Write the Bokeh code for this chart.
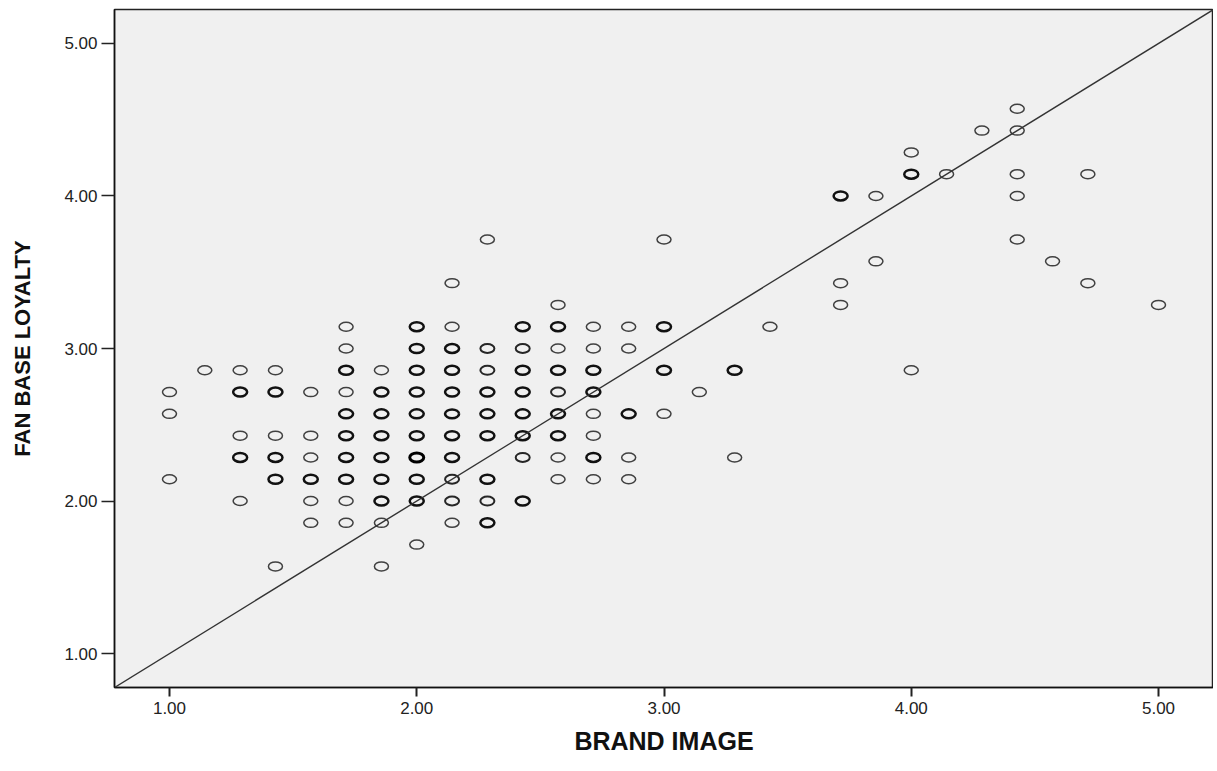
from bokeh.plotting import figure
from bokeh.models import Range1d, Slope, FixedTicker, ColumnDataSource
from bokeh.embed import file_html
from bokeh.resources import INLINE

# Scores are means of 7 items, stored as item sums (value = sum / 7)
brand_image_sum = [
    7, 7, 7,
    8,
    9, 9, 9, 9, 9,
    10, 10, 10, 10, 10, 10,
    11, 11, 11, 11, 11, 11,
    12, 12, 12, 12, 12, 12, 12, 12, 12, 12,
    13, 13, 13, 13, 13, 13, 13, 13, 13,
    14, 14, 14, 14, 14, 14, 14, 14, 14, 14,
    15, 15, 15, 15, 15, 15, 15, 15, 15, 15, 15,
    16, 16, 16, 16, 16, 16, 16, 16, 16,
    17, 17, 17, 17, 17, 17, 17, 17,
    18, 18, 18, 18, 18, 18, 18, 18, 18,
    19, 19, 19, 19, 19, 19, 19, 19,
    20, 20, 20, 20, 20,
    21, 21, 21, 21,
    22,
    23, 23,
    24,
    26, 26, 26,
    27, 27,
    28, 28, 28,
    29,
    30,
    31, 31, 31, 31, 31,
    32,
    33, 33,
    35,
]
fan_loyalty_sum = [
    19, 18, 15,
    20,
    20, 19, 17, 16, 14,
    20, 19, 17, 16, 15, 11,
    19, 17, 16, 15, 14, 13,
    22, 21, 20, 19, 18, 17, 16, 15, 14, 13,
    20, 19, 18, 17, 16, 15, 14, 13, 11,
    22, 21, 20, 19, 18, 17, 16, 15, 14, 12,
    24, 22, 21, 20, 19, 18, 17, 16, 15, 14, 13,
    26, 21, 20, 19, 18, 17, 15, 14, 13,
    22, 21, 20, 19, 18, 17, 16, 14,
    23, 22, 21, 20, 19, 18, 17, 16, 15,
    22, 21, 20, 19, 18, 17, 16, 15,
    22, 21, 18, 16, 15,
    26, 22, 20, 18,
    19,
    20, 16,
    22,
    28, 24, 23,
    28, 25,
    30, 29, 20,
    29,
    31,
    32, 31, 29, 28, 26,
    25,
    29, 24,
    23,
]
# overlap level of cases at the same point (1 = single case)
overlap = [
    1, 1, 1,
    1,
    1, 3, 1, 3, 1,
    1, 3, 1, 3, 3, 1,
    1, 1, 1, 3, 1, 1,
    1, 1, 3, 1, 3, 3, 3, 3, 1, 1,
    1, 3, 3, 3, 3, 3, 3, 1, 1,
    3, 3, 3, 3, 3, 3, 4, 3, 3, 1,
    1, 1, 3, 3, 3, 3, 3, 3, 2, 2, 1,
    1, 2, 2, 3, 3, 3, 3, 2, 3,
    3, 2, 3, 3, 3, 3, 2, 3,
    1, 3, 1, 3, 2, 3, 3, 1, 1,
    1, 1, 3, 3, 1, 1, 3, 1,
    1, 1, 3, 1, 1,
    1, 3, 3, 1,
    1,
    3, 1,
    1,
    3, 1, 1,
    1, 1,
    1, 3, 1,
    1,
    1,
    1, 1, 1, 1, 1,
    1,
    1, 1,
    1,
]

x_ticks = [1, 2, 3, 4, 5]
y_ticks = [1, 2, 3, 4, 5]
x_title = "BRAND IMAGE"
y_title = "FAN BASE LOYALTY"

xs = [s / 7 for s in brand_image_sum]
ys = [s / 7 for s in fan_loyalty_sum]
lw_map = {1: 1.5, 2: 2.0, 3: 2.5, 4: 3.0}
col_map = {1: "#404040", 2: "#262626", 3: "#111111", 4: "#000000"}
src = ColumnDataSource(dict(
    x=xs, y=ys,
    lw=[lw_map[n] for n in overlap],
    lc=[col_map[n] for n in overlap],
))

lo, hi = 0.7776, 5.2224
p = figure(width=1213, height=763, output_backend="svg", toolbar_location=None,
           x_range=Range1d(lo, hi), y_range=Range1d(lo, hi),
           min_border_left=114, min_border_right=0, min_border_top=9,
           min_border_bottom=76)
p.background_fill_color = "#f0f0f0"
p.border_fill_color = "white"
p.outline_line_color = "#222222"
p.outline_line_width = 1.5
p.grid.visible = False

p.add_layout(Slope(gradient=1, y_intercept=0, line_color="#333333", line_width=1.4))

p.ellipse(x="x", y="y", width=14, height=9, width_units="screen", height_units="screen",
          source=src, fill_color=None, line_color="lc", line_width="lw")

p.xaxis.ticker = FixedTicker(ticks=x_ticks)
p.yaxis.ticker = FixedTicker(ticks=y_ticks)
p.xaxis.major_label_overrides = {t: f"{t:.2f}" for t in x_ticks}
p.yaxis.major_label_overrides = {t: f"{t:.2f}" for t in y_ticks}
for ax in (p.xaxis, p.yaxis):
    ax.minor_tick_line_color = None
    ax.major_tick_in = 0
    ax.axis_line_color = "#111111"
    ax.axis_line_width = 1.5
    ax.major_tick_line_color = "#222222"
    ax.major_label_text_font = "Liberation Sans"
    ax.major_label_text_font_size = "17px"
    ax.major_label_text_color = "#222222"
    ax.axis_label_text_font = "Liberation Sans"
    ax.axis_label_text_font_style = "bold"
    ax.axis_label_text_color = "#111111"

p.xaxis.major_tick_out = 9
p.xaxis.major_tick_line_width = 2
p.xaxis.major_label_standoff = 5
p.xaxis.axis_label = x_title
p.xaxis.axis_label_text_font_size = "25px"
p.xaxis.axis_label_standoff = 10

p.yaxis.major_tick_out = 13
p.yaxis.major_tick_line_width = 1.5
p.yaxis.major_label_standoff = 4
p.yaxis.axis_label = y_title
p.yaxis.axis_label_text_font_size = "22px"
p.yaxis.axis_label_standoff = 26

open("out.html", "w").write(file_html(p, INLINE))
